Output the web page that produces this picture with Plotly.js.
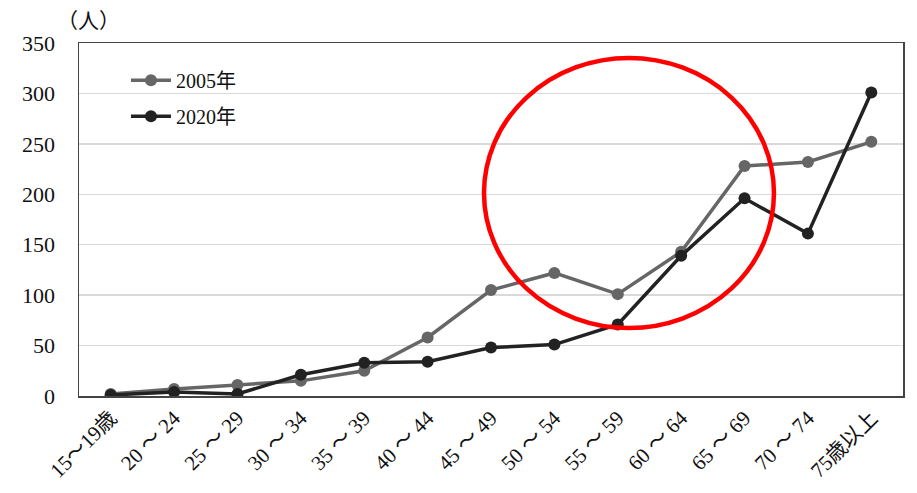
<!DOCTYPE html>
<html><head><meta charset="utf-8">
<script src="https://cdn.plot.ly/plotly-3.0.1.min.js"></script>
<style>html,body{margin:0;padding:0;background:#fff}#c{width:917px;height:493px}</style>
</head><body><div id="c"></div>
<script>
const categories = ["15～19歳","20 ～ 24","25 ～ 29","30 ～ 34","35 ～ 39","40 ～ 44","45 ～ 49","50 ～ 54","55 ～ 59","60 ～ 64","65 ～ 69","70 ～ 74","75歳以上"];
const values2005 = [2, 7, 11, 15, 25, 58, 105, 122, 101, 143, 228, 232, 252];
const values2020 = [1, 4, 2, 21, 33, 34, 48, 51, 71, 139, 196, 161, 301];
const seriesNames = ["2005年", "2020年"];
const yTicks = [0, 50, 100, 150, 200, 250, 300, 350];

const FONT = "Liberation Serif, 'Noto Sans CJK JP', serif";
const traces = [
  {x: categories, y: values2005, name: seriesNames[0], type: "scatter", mode: "lines+markers", legendgroup: "a",
   line: {color: "#666666", width: 3.5}, marker: {color: "#666666", size: 12}},
  {x: categories, y: values2020, name: seriesNames[1], type: "scatter", mode: "lines+markers", legendgroup: "b",
   line: {color: "#222222", width: 3.5}, marker: {color: "#222222", size: 12}}
];
const layout = {
  width: 917, height: 493,
  margin: {l: 79, r: 14, t: 43, b: 97},
  paper_bgcolor: "#fff", plot_bgcolor: "#fff",
  font: {family: FONT, color: "#111", size: 20},
  showlegend: true,
  legend: {x: 0.057, y: 0.95, xanchor: "left", yanchor: "top", bgcolor: "rgba(0,0,0,0)",
           font: {family: FONT, size: 20, color: "#111"}, tracegroupgap: 7, itemwidth: 40},
  xaxis: {type: "category", tickangle: -45, showgrid: false, showline: true, linecolor: "#444", linewidth: 1.5,
          mirror: true, ticks: "", tickfont: {family: FONT, size: 21, color: "#111"}, zeroline: false,
          range: [-0.5, 12.5]},
  yaxis: {range: [0, 350], tickvals: yTicks, showgrid: true, gridcolor: "#d9d9d9", gridwidth: 1.5,
          showline: true, linecolor: "#444", linewidth: 1.5, mirror: true, ticks: "", zeroline: false,
          tickfont: {family: FONT, size: 22, color: "#111"}, ticklabelstandoff: 18},
  shapes: [{type: "circle", xref: "paper", yref: "paper", x0: 0.4915, x1: 0.8434, y0: 0.1926, y1: 0.9575,
            line: {color: "#ff0000", width: 4.5}}],
  annotations: [{text: "（人）", xref: "paper", yref: "paper", x: 0.0, y: 1.0, xanchor: "center", yanchor: "bottom",
                 xshift: 9, yshift: 8, showarrow: false, font: {family: FONT, size: 21, color: "#111"}}]
};
Plotly.newPlot("c", traces, layout, {displayModeBar: false, staticPlot: true});
</script></body></html>
